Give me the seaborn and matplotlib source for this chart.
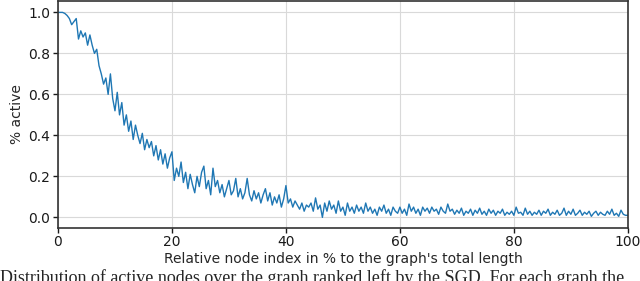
import numpy as np
import pandas as pd
import seaborn as sns
import matplotlib
matplotlib.use('Agg')
import matplotlib.pyplot as plt

# fraction of active nodes (one value every 0.4 %)
active = [
    1.0, 1.0, 1.0, 0.995, 0.985, 0.97, 0.94, 0.955, 0.97, 0.87,
    0.91, 0.88, 0.9, 0.84, 0.89, 0.84, 0.80, 0.82, 0.74, 0.70,
    0.65, 0.68, 0.60, 0.70, 0.58, 0.52, 0.61, 0.50, 0.56, 0.45,
    0.50, 0.42, 0.47, 0.38, 0.45, 0.40, 0.36, 0.41, 0.33, 0.38,
    0.34, 0.37, 0.30, 0.35, 0.28, 0.33, 0.26, 0.31, 0.24, 0.29,
    0.32, 0.18, 0.24, 0.20, 0.27, 0.17, 0.22, 0.14, 0.21, 0.16,
    0.12, 0.20, 0.15, 0.22, 0.25, 0.14, 0.18, 0.11, 0.24, 0.15,
    0.18, 0.12, 0.16, 0.10, 0.14, 0.18, 0.11, 0.13, 0.19, 0.10,
    0.14, 0.09, 0.12, 0.19, 0.11, 0.08, 0.13, 0.09, 0.12, 0.07,
    0.11, 0.14, 0.08, 0.12, 0.06, 0.10, 0.07, 0.11, 0.05, 0.09,
    0.155, 0.07, 0.09, 0.05, 0.08, 0.06, 0.04, 0.07, 0.03, 0.06,
    0.05, 0.07, 0.03, 0.095, 0.04, 0.06, 0.0, 0.07, 0.03, 0.08,
    0.04, 0.06, 0.02, 0.08, 0.03, 0.05, 0.01, 0.07, 0.03, 0.05,
    0.02, 0.06, 0.03, 0.05, 0.02, 0.07, 0.03, 0.05, 0.02, 0.04,
    0.01, 0.05, 0.03, 0.06, 0.02, 0.04, 0.01, 0.05, 0.03, 0.02,
    0.05, 0.02, 0.04, 0.01, 0.065, 0.03, 0.05, 0.02, 0.04, 0.01,
    0.05, 0.03, 0.045, 0.02, 0.05, 0.03, 0.04, 0.015, 0.05, 0.03,
    0.02, 0.065, 0.03, 0.04, 0.015, 0.035, 0.02, 0.045, 0.01, 0.03,
    0.02, 0.04, 0.01, 0.035, 0.02, 0.045, 0.015, 0.03, 0.01, 0.04,
    0.02, 0.035, 0.01, 0.03, 0.02, 0.04, 0.01, 0.025, 0.015, 0.03,
    0.01, 0.05, 0.02, 0.025, 0.01, 0.045, 0.015, 0.03, 0.01, 0.025,
    0.015, 0.035, 0.01, 0.03, 0.02, 0.04, 0.01, 0.025, 0.015, 0.035,
    0.01, 0.02, 0.045, 0.01, 0.03, 0.015, 0.04, 0.01, 0.02, 0.035,
    0.01, 0.025, 0.015, 0.03, 0.005, 0.02, 0.03, 0.01, 0.025, 0.015,
    0.01, 0.03, 0.015, 0.04, 0.01, 0.02, 0.005, 0.035, 0.015, 0.01,
    0.01,
]
x_ticks = [0, 20, 40, 60, 80, 100]
y_ticks = [0.0, 0.2, 0.4, 0.6, 0.8, 1.0]
x_label = "Relative node index in % to the graph's total length"
y_label = '% active'
caption = 'Distribution of active nodes over the graph ranked left by the SGD. For each graph the'

df = pd.DataFrame({'pos': np.linspace(0, 100, len(active)), 'active': active})

sns.set_style('whitegrid', {'axes.edgecolor': '0.2', 'grid.color': '0.85',
                            'xtick.bottom': True, 'ytick.left': True,
                            'xtick.color': '0.1', 'ytick.color': '0.1'})
plt.rcParams['font.family'] = ['DejaVu Sans']

fig, ax = plt.subplots(figsize=(6.4, 2.81), dpi=100)
fig.subplots_adjust(left=0.0906, right=0.981, top=0.996, bottom=0.19)

sns.lineplot(x='pos', y='active', data=df, ax=ax, color='#1f77b4', linewidth=1.0)

ax.set_xlim(0, 100)
ax.set_ylim(-0.05, 1.055)
ax.set_xticks(x_ticks)
ax.set_yticks(y_ticks)
ax.set_yticklabels([f'{v:.1f}' for v in y_ticks])
ax.tick_params(labelsize=10, length=3.5, width=1, pad=2)
ax.set_xlabel(x_label, fontsize=10, labelpad=2)
ax.set_ylabel(y_label, fontsize=10, labelpad=3)
for s in ax.spines.values():
    s.set_linewidth(1.2)

fig.text(0.0, 1 - 269 / 281, caption, fontsize=13, family='Liberation Serif',
         va='top', ha='left')

fig.savefig('out.png', dpi=100)
